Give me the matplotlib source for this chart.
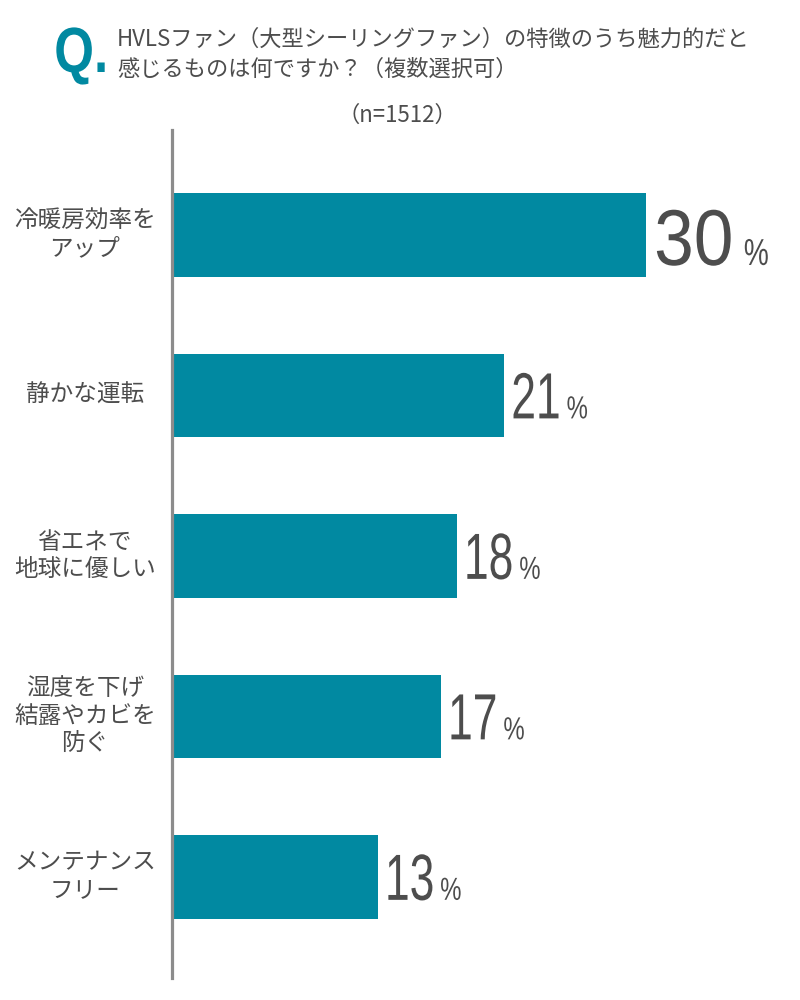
import matplotlib
matplotlib.use('Agg')
import matplotlib.pyplot as plt
from matplotlib.patheffects import AbstractPathEffect
from matplotlib.transforms import Affine2D, ScaledTranslation, blended_transform_factory

plt.rcParams['font.family'] = ['Noto Sans CJK JP', 'DejaVu Sans']

# answers and share of respondents (%)
labels = ['冷暖房効率を\nアップ', '静かな運転', '省エネで\n地球に優しい',
          '湿度を下げ\n結露やカビを\n防ぐ', 'メンテナンス\nフリー']
values = [30, 21, 18, 17, 13]
title_q = 'Q.'
title_lines = ['HVLSファン（大型シーリングファン）の特徴のうち魅力的だと',
               '感じるものは何ですか？（複数選択可）']
sample = '（n=1512）'

teal = '#0189a1'
txt = '#4d4d4d'
num_font = ['Liberation Sans', 'DejaVu Sans']


class Squeeze(AbstractPathEffect):
    """narrow glyphs horizontally (no condensed font installed).
    keeps the left edge, or the right edge when right=True"""
    def __init__(self, sx, right=False):
        super().__init__()
        self.sx = sx
        self.right = right

    def draw_path(self, renderer, gc, tpath, affine, rgbFace=None):
        xs = affine.transform(tpath.vertices)[:, 0]
        x0 = xs.max() if self.right else xs.min()
        sq = Affine2D().translate(-x0, 0).scale(self.sx, 1).translate(x0, 0)
        renderer.draw_path(gc, tpath, affine + sq, rgbFace)


fig = plt.figure(figsize=(8, 10), dpi=100)
ax = fig.add_axes([0.2156, 0.022, 0.7505, 0.848])
renderer = fig.canvas.get_renderer()
px = 72 / fig.dpi  # points per pixel

pos = list(range(len(values)))
ax.barh(pos, values, height=0.52, color=teal, zorder=1)
ax.set_xlim(0, 38)
ax.set_ylim(4.63, -0.654)

for s in ['top', 'right', 'bottom']:
    ax.spines[s].set_visible(False)
ax.spines['left'].set_color('#8c8c8c')
ax.spines['left'].set_linewidth(2.3)
ax.set_xticks([])
ax.set_yticks([])

# category labels, centred in the left margin
tr = blended_transform_factory(fig.transFigure, ax.transData)
for i, lab in enumerate(labels):
    ax.text(0.106, i, lab, transform=tr, ha='center', va='center',
            multialignment='center', fontsize=17, color=txt, linespacing=1.25)

# value labels: big number + small %
for i, v in enumerate(values):
    big = v == max(values)
    sx = 0.9 if big else 0.68
    base = i + (0.187 if big else 0.143)
    num = ax.text(v, base, str(v), ha='right', va='baseline',
                  fontsize=57 if big else 47, color=txt, family=num_font,
                  path_effects=[Squeeze(sx, right=True)])
    w = num.get_window_extent(renderer).width
    shift = 8 + sx * w  # right end of the squeezed number, in pixels
    num.set_transform(ax.transData + ScaledTranslation(shift / fig.dpi, 0, fig.dpi_scale_trans))
    ax.annotate('%', xy=(v, base), xytext=((shift + (10 if big else 5)) * px, 0),
                textcoords='offset points', ha='left', va='baseline',
                fontsize=27 if big else 23, color=txt, family=num_font,
                path_effects=[Squeeze(0.75)])

# title
fig.text(109 / 800, 1 - 72 / 1000, title_q, ha='right', va='baseline', fontsize=46,
         fontweight='bold', color=teal, family=num_font,
         path_effects=[Squeeze(0.8, right=True)])
fig.text(117 / 800, 1 - 39 / 1000, title_lines[0], ha='left', va='center',
         fontsize=16, color=txt)
fig.text(117 / 800, 1 - 69 / 1000, title_lines[1], ha='left', va='center',
         fontsize=16, color=txt)
fig.text(397 / 800, 1 - 115 / 1000, sample, ha='center', va='center',
         fontsize=16, color=txt)

fig.savefig('out.png', dpi=100)
